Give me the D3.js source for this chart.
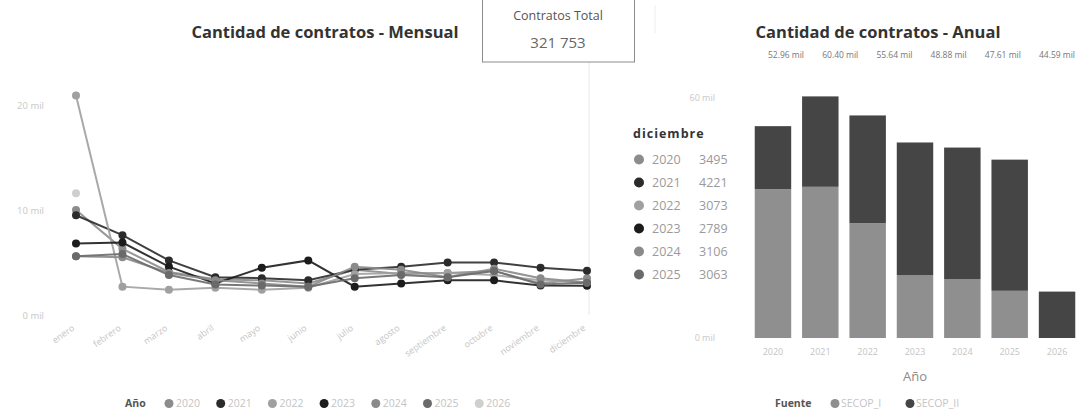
<!DOCTYPE html>
<html>
<head>
  <meta charset="utf-8">
  <title>Contratos</title>
  <script src="https://cdn.jsdelivr.net/npm/d3@7"></script>
  <style>
    body { margin: 0; background: #fff; }
    svg text { font-family: "Open Sans", "DejaVu Sans", sans-serif; }
  </style>
</head>
<body>
<div id="chart"></div>
<script>
// monthly data (miles de contratos)
var months = ["enero","febrero","marzo","abril","mayo","junio","julio","agosto","septiembre","octubre","noviembre","diciembre"];
var years = ["2020","2021","2022","2023","2024","2025","2026"];
var yearColors = ["#8c8c8c","#2b2b2b","#a0a0a0","#1c1c1c","#8a8a8a","#6a6a6a","#cfcfcf"];

var v2020 = [10.0, 6.3, 4.1, 3.4, 3.3, 3.0, 4.3, 3.9, 4.0, 4.2, 3.0, 3.495];
var v2021 = [9.5, 7.6, 5.2, 3.6, 3.5, 3.3, 4.3, 4.6, 5.0, 5.0, 4.5, 4.221];
var v2022 = [20.9, 2.7, 2.4, 2.6, 2.4, 2.6, 3.9, 4.0, 4.0, 3.8, 3.3, 3.073];
var v2023 = [6.8, 6.9, 4.6, 3.0, 4.5, 5.2, 2.7, 3.0, 3.3, 3.3, 2.8, 2.789];
var v2024 = [5.6, 5.5, 4.0, 3.3, 3.0, 2.7, 4.6, 4.3, 3.6, 4.4, 3.5, 3.106];
var v2025 = [5.6, 5.8, 3.8, 2.9, 2.8, 2.7, 3.5, 3.8, 3.6, 4.2, 2.9, 3.063];
var v2026 = [11.6];
var monthly = [v2020, v2021, v2022, v2023, v2024, v2025, v2026];

var decLabels = ["3495","4221","3073","2789","3106","3063"];
var yTicksMonthly = [0, 10, 20];

// annual data (miles)
var annualYears = ["2020","2021","2022","2023","2024","2025","2026"];
var secop1 = [37.2, 37.8, 28.7, 15.75, 14.75, 11.8, 0];
var secop2 = [15.76, 22.6, 26.94, 33.13, 32.86, 32.79, 11.6];
var totalLabels = ["52.96 mil","60.40 mil","55.64 mil","48.88 mil","47.61 mil","44.59 mil"];
var fuentes = ["SECOP_I","SECOP_II"];
var fuenteColors = ["#8f8f8f","#454545"];
var yTicksAnnual = [0, 60];

var totalContratos = "321 753";

var svg = d3.select("#chart").append("svg")
  .attr("width", 1083).attr("height", 414);

// ---------- monthly line chart ----------
var x = d3.scalePoint().domain(months).range([76, 587]);
var y = d3.scaleLinear().domain([0, 20]).range([315, 105]);

svg.append("text").attr("x", 325).attr("y", 38).attr("text-anchor", "middle")
  .attr("font-size", 16.5).attr("font-weight", 700).attr("fill", "#333")
  .text("Cantidad de contratos - Mensual");

// right edge line of the plot
svg.append("line").attr("x1", 589).attr("x2", 589).attr("y1", 62).attr("y2", 315)
  .attr("stroke", "#e8e8e8");
svg.append("line").attr("x1", 655).attr("x2", 655).attr("y1", 5).attr("y2", 33)
  .attr("stroke", "#eeeeee");

var yAxis = svg.append("g").attr("transform", "translate(47,0)")
  .call(d3.axisLeft(y).tickValues(yTicksMonthly).tickSize(0).tickFormat(function(d) { return d + " mil"; }));
yAxis.select(".domain").remove();
yAxis.selectAll("text").attr("fill", "#c8c8c8").attr("font-size", 9.5);

var xAxis = svg.append("g").attr("transform", "translate(0,318)")
  .call(d3.axisBottom(x).tickSize(0));
xAxis.select(".domain").remove();
xAxis.selectAll("text").attr("fill", "#c4c4c4").attr("font-size", 9)
  .attr("text-anchor", "end").attr("dy", 0)
  .attr("transform", "translate(-3,9) rotate(-35)");

var line = d3.line().x(function(d, i) { return x(months[i]); }).y(function(d) { return y(d); });

monthly.forEach(function(vals, k) {
  var g = svg.append("g");
  g.append("path").datum(vals).attr("d", line)
    .attr("fill", "none").attr("stroke", yearColors[k]).attr("stroke-width", 2).attr("opacity", 0.9);
  g.selectAll("circle").data(vals).enter().append("circle")
    .attr("cx", function(d, i) { return x(months[i]); })
    .attr("cy", function(d) { return y(d); })
    .attr("r", 4).attr("fill", yearColors[k]);
});

// bottom legend
var leg = svg.append("g").attr("transform", "translate(125,407)");
leg.append("text").attr("x", 0).attr("y", 0).attr("font-size", 10.5).attr("font-weight", 700)
  .attr("fill", "#555").text("Año");
years.forEach(function(yr, i) {
  var cx = 44 + i * 51.7;
  leg.append("circle").attr("cx", cx).attr("cy", -3.5).attr("r", 4.5).attr("fill", yearColors[i]);
  leg.append("text").attr("x", cx + 7).attr("y", 0).attr("font-size", 10.5).attr("fill", "#c4c4c4").text(yr);
});

// card
svg.append("rect").attr("x", 482.5).attr("y", -2).attr("width", 152).attr("height", 64)
  .attr("fill", "#fff").attr("stroke", "#8c8c8c");
svg.append("text").attr("x", 558).attr("y", 20).attr("text-anchor", "middle")
  .attr("font-size", 12.5).attr("fill", "#555").text("Contratos Total");
svg.append("text").attr("x", 558).attr("y", 48).attr("text-anchor", "middle")
  .attr("font-size", 15).attr("fill", "#666").text(totalContratos);

// diciembre tooltip legend
var tip = svg.append("g").attr("transform", "translate(633,138)");
tip.append("text").attr("x", 0).attr("y", 0).attr("font-size", 12.5).attr("font-weight", 700)
  .attr("fill", "#333").attr("letter-spacing", 1).text("diciembre");
decLabels.forEach(function(v, i) {
  var yy = 26 + i * 23;
  tip.append("circle").attr("cx", 6).attr("cy", yy - 4.5).attr("r", 5).attr("fill", yearColors[i]);
  tip.append("text").attr("x", 19).attr("y", yy).attr("font-size", 12.5).attr("fill", "#9a9a9a").text(years[i]);
  tip.append("text").attr("x", 66).attr("y", yy).attr("font-size", 12.5).attr("fill", "#9a9a9a").text(v);
});

// ---------- annual stacked bars ----------
var xb = d3.scaleBand().domain(annualYears).range([750, 1080]).paddingInner(0.23).paddingOuter(0.1);
var yb = d3.scaleLinear().domain([0, 60]).range([338, 98]);

svg.append("text").attr("x", 878).attr("y", 38).attr("text-anchor", "middle")
  .attr("font-size", 16.5).attr("font-weight", 700).attr("fill", "#333")
  .text("Cantidad de contratos - Anual");

var ybAxis = svg.append("g").attr("transform", "translate(718,0)")
  .call(d3.axisLeft(yb).tickValues(yTicksAnnual).tickSize(0).tickFormat(function(d) { return d + " mil"; }));
ybAxis.select(".domain").remove();
ybAxis.selectAll("text").attr("fill", "#c8c8c8").attr("font-size", 9);

var xbAxis = svg.append("g").attr("transform", "translate(0,346)")
  .call(d3.axisBottom(xb).tickSize(0));
xbAxis.select(".domain").remove();
xbAxis.selectAll("text").attr("fill", "#c4c4c4").attr("font-size", 9);

var rows = annualYears.map(function(yr, i) { return { year: yr, SECOP_I: secop1[i], SECOP_II: secop2[i] }; });
var stacked = d3.stack().keys(fuentes)(rows);

stacked.forEach(function(layer, k) {
  svg.append("g").selectAll("rect").data(layer).enter().append("rect")
    .attr("x", function(d) { return xb(d.data.year); })
    .attr("width", xb.bandwidth())
    .attr("y", function(d) { return yb(d[1]); })
    .attr("height", function(d) { return yb(d[0]) - yb(d[1]); })
    .attr("fill", fuenteColors[k]);
});

// total labels row (spread wider than the bars, as in the report)
var xl = d3.scalePoint().domain(annualYears.slice(0, 6)).range([786, 1057]);
totalLabels.forEach(function(t, i) {
  svg.append("text").attr("x", xl(annualYears[i])).attr("y", 58)
    .attr("text-anchor", "middle").attr("font-size", 8.5).attr("fill", "#777").text(t);
});

svg.append("text").attr("x", 915).attr("y", 381).attr("text-anchor", "middle")
  .attr("font-size", 13).attr("fill", "#8a8a8a").text("Año");

var leg2 = svg.append("g").attr("transform", "translate(775,407)");
leg2.append("text").attr("x", 0).attr("y", 0).attr("font-size", 10.5).attr("font-weight", 700)
  .attr("fill", "#555").text("Fuente");
fuentes.forEach(function(f, i) {
  var cx = 60 + i * 75;
  leg2.append("circle").attr("cx", cx).attr("cy", -3.5).attr("r", 4.5).attr("fill", fuenteColors[i]);
  leg2.append("text").attr("x", cx + 6).attr("y", 0).attr("font-size", 10.5).attr("fill", "#c4c4c4").text(f);
});
</script>
</body>
</html>
